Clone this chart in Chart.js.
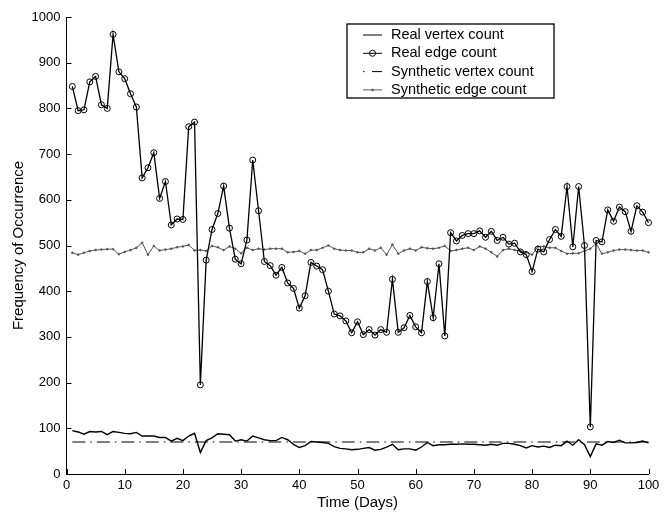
<!DOCTYPE html>
<html lang="en">
<head>
  <meta charset="UTF-8">
  <title>Frequency of Occurrence</title>
  <script src="https://cdn.jsdelivr.net/npm/chart.js"></script>
  <style>
    body {
      margin: 0;
      background: #fff;
    }
    #wrap {
      width: 670px;
      height: 512px;
    }
  </style>
</head>
<body>
  <div id="wrap">
    <canvas id="chart" width="670" height="512"></canvas>
  </div>

  <script>
    const days = [
      1, 2, 3, 4, 5, 6, 7, 8, 9, 10,
      11, 12, 13, 14, 15, 16, 17, 18, 19, 20,
      21, 22, 23, 24, 25, 26, 27, 28, 29, 30,
      31, 32, 33, 34, 35, 36, 37, 38, 39, 40,
      41, 42, 43, 44, 45, 46, 47, 48, 49, 50,
      51, 52, 53, 54, 55, 56, 57, 58, 59, 60,
      61, 62, 63, 64, 65, 66, 67, 68, 69, 70,
      71, 72, 73, 74, 75, 76, 77, 78, 79, 80,
      81, 82, 83, 84, 85, 86, 87, 88, 89, 90,
      91, 92, 93, 94, 95, 96, 97, 98, 99, 100
    ];

    const realVertex = [
      95, 92, 87, 93, 92, 93, 86, 93, 91, 89,
      88, 91, 83, 83, 83, 80, 80, 72, 78, 73,
      83, 89, 47, 73, 79, 88, 87, 86, 72, 75,
      72, 83, 79, 75, 73, 73, 80, 75, 65, 58,
      62, 71, 70, 69, 67, 60, 56, 55, 53, 54,
      56, 58, 52, 54, 59, 65, 53, 55, 55, 52,
      59, 69, 62, 64, 64, 65, 65, 66, 65, 65,
      64, 63, 65, 63, 67, 67, 65, 62, 57, 62,
      59, 61, 58, 63, 62, 72, 63, 75, 64, 38,
      66, 63, 71, 69, 74, 68, 68, 69, 72, 68
    ];

    const realEdge = [
      848, 795, 797, 858, 870, 808, 800, 962, 880, 865,
      832, 803, 648, 670, 703, 603, 640, 545, 558, 557,
      760, 770, 195, 468, 535, 570, 630, 538, 470, 460,
      512, 687, 576, 465, 456, 435, 452, 418, 406, 363,
      390, 463, 455, 447, 400, 350, 346, 335, 309, 333,
      305, 316, 304, 316, 310, 426, 310, 320, 347, 322,
      309, 421, 342, 460, 302, 528, 510, 522, 526, 526,
      532, 518, 531, 511, 518, 503, 505, 486, 480, 443,
      492, 486, 513, 535, 520, 629, 497, 629, 500, 103,
      511, 508, 578, 553, 584, 574, 531, 587, 573, 550
    ];

    const synthVertexDays = [1, 100];
    const synthVertex = [70, 70];

    const synthEdge = [
      484, 480, 484, 488, 490, 491, 492, 492, 481, 486,
      490, 495, 506, 480, 499, 489, 491, 493, 496, 498,
      501, 489, 490, 488, 499, 496, 490, 498, 493, 483,
      495, 490, 493, 491, 493, 493, 493, 485, 486, 488,
      482, 490, 490, 495, 500, 493, 490, 489, 489, 485,
      485, 493, 489, 495, 480, 502, 482, 489, 493, 489,
      496, 494, 493, 495, 499, 488, 490, 493, 495, 490,
      498, 493, 485, 476, 490, 493, 490, 488, 485, 480,
      498, 498, 495, 495, 488, 482, 483, 483, 488, 493,
      504, 482, 485, 489, 491, 491, 490, 489, 489, 485
    ];

    const xTicks = [0, 10, 20, 30, 40, 50, 60, 70, 80, 90, 100];
    const yTicks = [0, 100, 200, 300, 400, 500, 600, 700, 800, 900, 1000];

    function toPoints(xs, ys) {
      return xs.map((x, i) => ({ x: x, y: ys[i] }));
    }

    // matlab style ticks, pointing into the plot
    const inwardTicks = {
      id: 'inwardTicks',
      afterDraw(chart) {
        const { ctx, chartArea, scales } = chart;
        ctx.save();
        ctx.strokeStyle = '#000';
        ctx.lineWidth = 1;
        ctx.beginPath();
        scales.x.ticks.forEach(t => {
          const px = Math.round(scales.x.getPixelForValue(t.value)) + 0.5;
          ctx.moveTo(px, chartArea.bottom);
          ctx.lineTo(px, chartArea.bottom - 5);
        });
        scales.y.ticks.forEach(t => {
          const py = Math.round(scales.y.getPixelForValue(t.value)) + 0.5;
          ctx.moveTo(chartArea.left, py);
          ctx.lineTo(chartArea.left + 5, py);
        });
        ctx.stroke();
        ctx.restore();
      }
    };

    // legend in a framed box inside the plot
    const boxLegend = {
      id: 'boxLegend',
      afterDraw(chart) {
        const ctx = chart.ctx;
        const left = 347, top = 24, right = 554, bottom = 98;
        const rowH = 18.3;
        const x0 = 363, x1 = 382, tx = 391;
        ctx.save();
        ctx.fillStyle = '#fff';
        ctx.fillRect(left, top, right - left, bottom - top);
        ctx.strokeStyle = '#000';
        ctx.lineWidth = 1.3;
        ctx.strokeRect(left, top, right - left, bottom - top);
        ctx.font = '14.5px "Liberation Sans", Arial, sans-serif';
        ctx.textBaseline = 'middle';
        chart.data.datasets.forEach((ds, i) => {
          const y = top + 11 + i * rowH;
          ctx.strokeStyle = ds.borderColor;
          ctx.lineWidth = 1;
          ctx.beginPath();
          if (ds.borderDash && ds.borderDash.length) {
            ctx.setLineDash([1.5, 7.5, 11, 50]);
          } else {
            ctx.setLineDash([]);
          }
          ctx.moveTo(x0, y);
          ctx.lineTo(x1, y);
          ctx.stroke();
          ctx.setLineDash([]);
          if (ds.pointRadius > 0) {
            ctx.beginPath();
            ctx.arc((x0 + x1) / 2, y, ds.pointRadius, 0, Math.PI * 2);
            if (ds.pointBackgroundColor && ds.pointBackgroundColor !== 'transparent') {
              ctx.fillStyle = ds.pointBackgroundColor;
              ctx.fill();
            }
            ctx.lineWidth = ds.pointBorderWidth;
            ctx.strokeStyle = ds.pointBorderColor;
            ctx.stroke();
          }
          ctx.fillStyle = '#000';
          ctx.fillText(ds.label, tx, y);
        });
        ctx.restore();
      }
    };

    Chart.defaults.font.family = '"Liberation Sans", Arial, Helvetica, sans-serif';
    Chart.defaults.color = '#000';

    const ctx = document.getElementById('chart').getContext('2d');
    new Chart(ctx, {
      type: 'line',
      data: {
        datasets: [
          {
            label: 'Real vertex count',
            data: toPoints(days, realVertex),
            borderColor: '#000',
            borderWidth: 1.4,
            pointRadius: 0,
            clip: false
          },
          {
            label: 'Real edge count',
            data: toPoints(days, realEdge),
            borderColor: '#000',
            borderWidth: 1.3,
            pointRadius: 3,
            pointBorderWidth: 1,
            pointBorderColor: '#000',
            pointBackgroundColor: 'transparent',
            clip: false
          },
          {
            label: 'Synthetic vertex count',
            data: toPoints(synthVertexDays, synthVertex),
            borderColor: '#000',
            borderWidth: 1,
            borderDash: [13, 5, 1.5, 5],
            pointRadius: 0,
            clip: false
          },
          {
            label: 'Synthetic edge count',
            data: toPoints(days, synthEdge),
            borderColor: '#555',
            borderWidth: 1,
            pointRadius: 1,
            pointBorderWidth: 0.5,
            pointBorderColor: '#555',
            pointBackgroundColor: '#555',
            clip: false
          }
        ]
      },
      options: {
        responsive: false,
        animation: false,
        layout: {
          padding: { top: 17, right: 21.5, bottom: 0, left: 0 }
        },
        elements: {
          line: { tension: 0 }
        },
        plugins: {
          legend: { display: false },
          tooltip: { enabled: false }
        },
        scales: {
          x: {
            type: 'linear',
            min: 0,
            max: 100,
            afterBuildTicks: s => { s.ticks = xTicks.map(v => ({ value: v })); },
            afterFit: s => { s.height = 38; },
            grid: { display: false, drawTicks: false },
            border: { display: true, color: '#000', width: 1 },
            ticks: {
              font: { size: 13 },
              color: '#000',
              padding: 4,
              maxRotation: 0,
              autoSkip: false,
              callback: v => String(v)
            },
            title: {
              display: true,
              text: 'Time (Days)',
              font: { size: 15 },
              color: '#000',
              padding: { top: 0, bottom: 0 }
            }
          },
          y: {
            min: 0,
            max: 1000,
            afterBuildTicks: s => { s.ticks = yTicks.map(v => ({ value: v })); },
            afterFit: s => { s.width = 66.5; },
            grid: { display: false, drawTicks: false },
            border: { display: true, color: '#000', width: 1 },
            ticks: {
              font: { size: 13 },
              color: '#000',
              padding: 6,
              callback: v => String(v)
            },
            title: {
              display: true,
              text: 'Frequency of Occurrence',
              font: { size: 15 },
              color: '#000',
              padding: { top: 10, bottom: 0 }
            }
          }
        }
      },
      plugins: [inwardTicks, boxLegend]
    });
  </script>
</body>
</html>
